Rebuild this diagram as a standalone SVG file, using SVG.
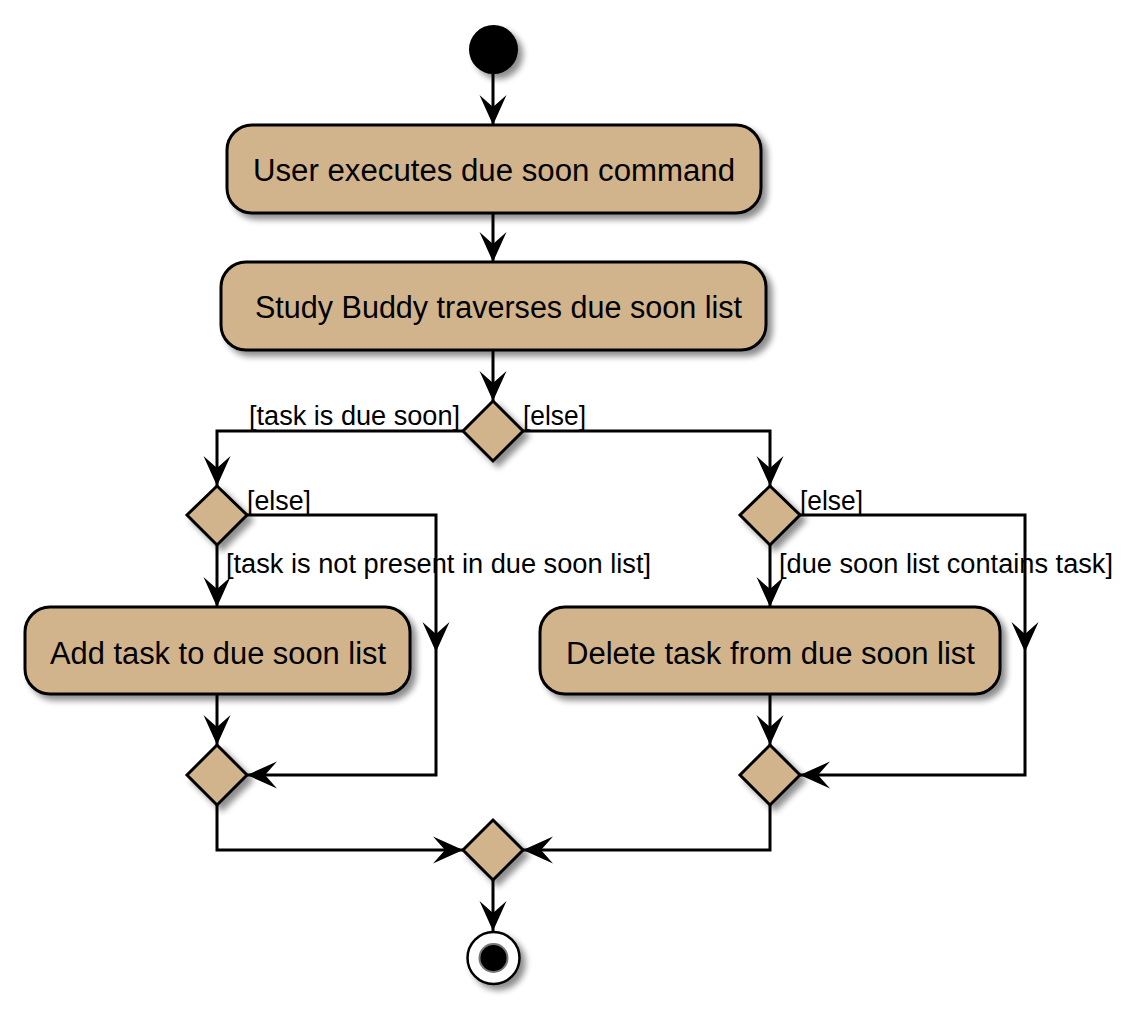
<svg xmlns="http://www.w3.org/2000/svg" width="1142" height="1010" viewBox="0 0 1142 1010">
<defs>
<filter id="sh" x="-20%" y="-20%" width="150%" height="150%">
<feGaussianBlur in="SourceAlpha" stdDeviation="3"/>
<feOffset dx="5" dy="5" result="b"/>
<feComponentTransfer><feFuncA type="linear" slope="0.45"/></feComponentTransfer>
<feMerge><feMergeNode/><feMergeNode in="SourceGraphic"/></feMerge>
</filter>
<marker id="ah" markerUnits="userSpaceOnUse" viewBox="0 0 31 27" refX="30" refY="13.5" markerWidth="31" markerHeight="27" orient="auto" overflow="visible">
<path d="M30,13.5 L0,0 L12,13.5 L0,27 Z" fill="#000"/>
</marker>
<style>
.act{fill:#D2B48C;stroke:#000;stroke-width:3}
.dia{fill:#D2B48C;stroke:#000;stroke-width:3}
.nt{font-family:"Liberation Sans",Arial,sans-serif;font-size:31px;fill:#000;text-anchor:middle}
.lb{font-family:"Liberation Sans",Arial,sans-serif;font-size:27px;fill:#000}
.ln{fill:none;stroke:#000;stroke-width:3;marker-end:url(#ah)}
</style>
</defs>
<rect width="1142" height="1010" fill="#fff"/>

<g id="connectors">
<path class="ln" d="M493,74 L493,125"/>
<path class="ln" d="M493,213 L493,262"/>
<path class="ln" d="M493,350 L493,401"/>
<path class="ln" d="M463,431 L217,431 L217,486"/>
<path class="ln" d="M523,431 L770,431 L770,486"/>
<path class="ln" d="M217,545 L217,607"/>
<path class="ln" d="M247,515 L436,515 L436,652"/>
<path class="ln" d="M436,652 L436,775 L247,775"/>
<path class="ln" d="M217,694 L217,745"/>
<path class="ln" d="M770,545 L770,607"/>
<path class="ln" d="M800,515 L1025,515 L1025,652"/>
<path class="ln" d="M1025,652 L1025,775 L800,775"/>
<path class="ln" d="M770,694 L770,745"/>
<path class="ln" d="M217,805 L217,850 L463,850"/>
<path class="ln" d="M770,805 L770,850 L523,850"/>
<path class="ln" d="M493,880 L493,931"/>
<text class="lb" x="460" y="425" text-anchor="end" textLength="211" lengthAdjust="spacingAndGlyphs">[task is due soon]</text>
<text class="lb" x="523" y="425" textLength="63" lengthAdjust="spacingAndGlyphs">[else]</text>
<text class="lb" x="247" y="510" textLength="64" lengthAdjust="spacingAndGlyphs">[else]</text>
<text class="lb" x="226" y="573" textLength="425" lengthAdjust="spacingAndGlyphs">[task is not present in due soon list]</text>
<text class="lb" x="800" y="510" textLength="63" lengthAdjust="spacingAndGlyphs">[else]</text>
<text class="lb" x="779" y="573" textLength="334" lengthAdjust="spacingAndGlyphs">[due soon list contains task]</text>
</g>

<g id="start">
<circle cx="493.5" cy="49.5" r="24.5" fill="#000" filter="url(#sh)"/>
</g>

<g id="act1">
<rect class="act" x="227" y="125" width="534" height="88" rx="25" filter="url(#sh)"/>
<text class="nt" x="494" y="181" textLength="482" lengthAdjust="spacingAndGlyphs">User executes due soon command</text>
</g>

<g id="act2">
<rect class="act" x="221" y="262" width="545" height="88" rx="25" filter="url(#sh)"/>
<text class="nt" x="498.5" y="318" textLength="487" lengthAdjust="spacingAndGlyphs">Study Buddy traverses due soon list</text>
</g>

<g id="d1"><path class="dia" d="M493,401 L523,431 L493,461 L463,431 Z" filter="url(#sh)"/></g>
<g id="d2"><path class="dia" d="M217,486 L247,515 L217,545 L187,515 Z" filter="url(#sh)"/></g>
<g id="d3"><path class="dia" d="M770,486 L800,515 L770,545 L740,515 Z" filter="url(#sh)"/></g>

<g id="act3">
<rect class="act" x="25" y="607" width="385" height="87" rx="25" filter="url(#sh)"/>
<text class="nt" x="218" y="664" textLength="336" lengthAdjust="spacingAndGlyphs">Add task to due soon list</text>
</g>

<g id="act4">
<rect class="act" x="540" y="607" width="460" height="87" rx="25" filter="url(#sh)"/>
<text class="nt" x="770.5" y="664" textLength="409" lengthAdjust="spacingAndGlyphs">Delete task from due soon list</text>
</g>

<g id="d4"><path class="dia" d="M217,745 L247,775 L217,805 L187,775 Z" filter="url(#sh)"/></g>
<g id="d6"><path class="dia" d="M770,745 L800,775 L770,805 L740,775 Z" filter="url(#sh)"/></g>
<g id="d5"><path class="dia" d="M493,820 L523,850 L493,880 L463,850 Z" filter="url(#sh)"/></g>

<g id="end">
<circle cx="493.5" cy="958" r="26" fill="#fff" stroke="#000" stroke-width="2.5" filter="url(#sh)"/>
<circle cx="493.5" cy="958" r="15" fill="#777"/>
<circle cx="493.5" cy="958" r="13" fill="#000"/>
</g>
</svg>
